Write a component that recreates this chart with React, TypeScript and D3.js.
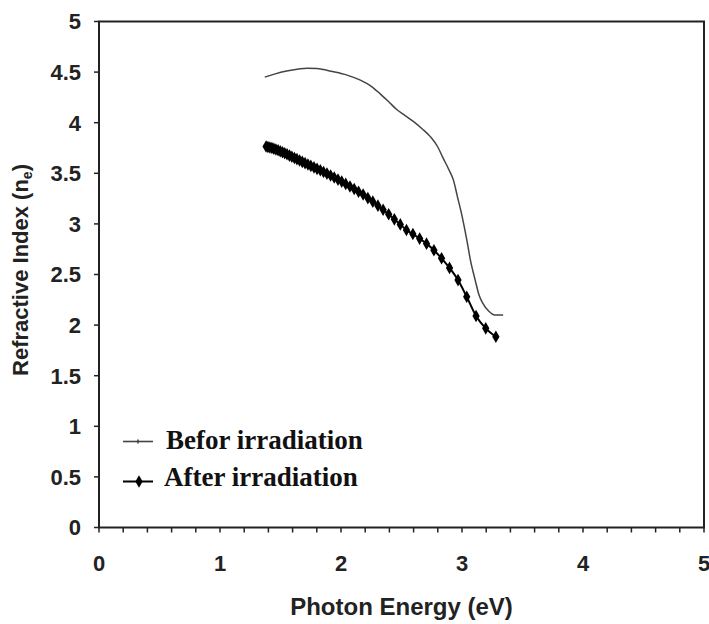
import React from "react";
import * as d3 from "d3";

const xTicks = [0, 1, 2, 3, 4, 5];
const yTicks = [0, 0.5, 1, 1.5, 2, 2.5, 3, 3.5, 4, 4.5, 5];
const xMinorTicks = d3.range(0, 5.0001, 0.2);

const beforeEnergy = [1.37, 1.45, 1.55, 1.65, 1.72, 1.8, 1.93, 2.05, 2.16, 2.25, 2.32, 2.4, 2.46, 2.53, 2.6, 2.67, 2.74, 2.8, 2.84, 2.89, 2.93, 2.96, 3.0, 3.04, 3.07, 3.11, 3.14, 3.17, 3.22, 3.27, 3.34];
const beforeIndex = [4.45, 4.48, 4.51, 4.53, 4.538, 4.535, 4.505, 4.47, 4.42, 4.36, 4.29, 4.2, 4.13, 4.07, 4.01, 3.94, 3.86, 3.76, 3.66, 3.54, 3.43, 3.28, 3.08, 2.84, 2.64, 2.44, 2.3, 2.22, 2.14, 2.1, 2.1];

const afterEnergy = [1.381, 1.396, 1.412, 1.429, 1.445, 1.462, 1.48, 1.498, 1.516, 1.535, 1.554, 1.574, 1.594, 1.615, 1.636, 1.658, 1.68, 1.703, 1.727, 1.751, 1.777, 1.802, 1.829, 1.856, 1.884, 1.914, 1.944, 1.975, 2.006, 2.039, 2.074, 2.109, 2.145, 2.183, 2.222, 2.263, 2.305, 2.348, 2.394, 2.441, 2.49, 2.541, 2.594, 2.65, 2.707, 2.768, 2.831, 2.897, 2.967, 3.039, 3.116, 3.196, 3.28];
const afterIndex = [3.765, 3.76, 3.755, 3.75, 3.742, 3.735, 3.728, 3.718, 3.708, 3.698, 3.688, 3.675, 3.663, 3.651, 3.64, 3.627, 3.613, 3.6, 3.587, 3.573, 3.558, 3.544, 3.53, 3.513, 3.497, 3.478, 3.458, 3.438, 3.418, 3.395, 3.37, 3.345, 3.318, 3.29, 3.255, 3.22, 3.18, 3.14, 3.095, 3.045, 2.995, 2.94, 2.9, 2.855, 2.805, 2.74, 2.66, 2.565, 2.445, 2.28, 2.09, 1.968, 1.885];

const legendLabels = ["Befor irradiation", "After irradiation"];

export default function App() {
  const W = 709, H = 624;
  const left = 99, right = 704, top = 21.5, bottom = 527.5;
  const x = d3.scaleLinear().domain([0, 5]).range([left, right]);
  const y = d3.scaleLinear().domain([0, 5]).range([bottom, top]);
  const before = beforeEnergy.map((e, i) => [e, beforeIndex[i]] as [number, number]);
  const after = afterEnergy.map((e, i) => [e, afterIndex[i]] as [number, number]);
  const line = d3.line<[number, number]>().x(d => x(d[0])).y(d => y(d[1])).curve(d3.curveMonotoneX);
  const diamond = d3.symbol().type(d3.symbolDiamond).size(46)();
  const axisFont = "'Liberation Sans', Arial, sans-serif";
  const serif = "'Liberation Serif', 'Times New Roman', serif";
  return (
    <svg width={W} height={H} style={{ position: "absolute", left: 0, top: 0, background: "#fff" }}>
      <rect x={0} y={0} width={W} height={H} fill="#fff" />
      <rect x={left} y={top} width={right - left} height={bottom - top} fill="none" stroke="#222" strokeWidth={2} />
      {xMinorTicks.map((t, i) => (
        <line key={"xm" + i} x1={x(t)} x2={x(t)} y1={bottom} y2={bottom + 5} stroke="#222" strokeWidth={1.5} />
      ))}
      {xTicks.map(t => (
        <text key={"xt" + t} x={x(t)} y={571} textAnchor="middle" fontFamily={axisFont} fontWeight="bold" fontSize={22} fill="#222">{t}</text>
      ))}
      {yTicks.map(t => (
        <g key={"yt" + t}>
          <line x1={left - 5} x2={left} y1={y(t)} y2={y(t)} stroke="#222" strokeWidth={1.5} />
          <text x={81} y={y(t)} dy="0.36em" textAnchor="end" fontFamily={axisFont} fontWeight="bold" fontSize={22} fill="#222">{t}</text>
        </g>
      ))}
      <text x={(left + right) / 2} y={615} textAnchor="middle" fontFamily={axisFont} fontWeight="bold" fontSize={24} fill="#222">Photon Energy (eV)</text>
      <text transform={`translate(28,270) rotate(-90)`} textAnchor="middle" fontFamily={axisFont} fontWeight="bold" fontSize={22} fill="#222">
        Refractive Index (n<tspan fontSize={14} dy="4">e</tspan><tspan dy="-4">)</tspan>
      </text>
      <path d={line(before) || ""} fill="none" stroke="#444" strokeWidth={1.5} />
      <path d={line(after) || ""} fill="none" stroke="#000" strokeWidth={2} />
      {after.map((d, i) => (
        <path key={"a" + i} d={diamond || ""} transform={`translate(${x(d[0])},${y(d[1])})`} fill="#000" />
      ))}
      <g>
        <line x1={123} x2={153} y1={441.5} y2={441.5} stroke="#444" strokeWidth={1.6} />
        <line x1={138} x2={138} y1={439.5} y2={443.5} stroke="#444" strokeWidth={1.6} />
        <text x={166} y={449} fontFamily={serif} fontWeight="bold" fontSize={27} fill="#111">{legendLabels[0]}</text>
        <line x1={123} x2={153} y1={481.5} y2={481.5} stroke="#000" strokeWidth={2} />
        <path d={diamond || ""} transform="translate(139,481.5)" fill="#000" />
        <text x={164} y={486} fontFamily={serif} fontWeight="bold" fontSize={27} fill="#111">{legendLabels[1]}</text>
      </g>
    </svg>
  );
}
